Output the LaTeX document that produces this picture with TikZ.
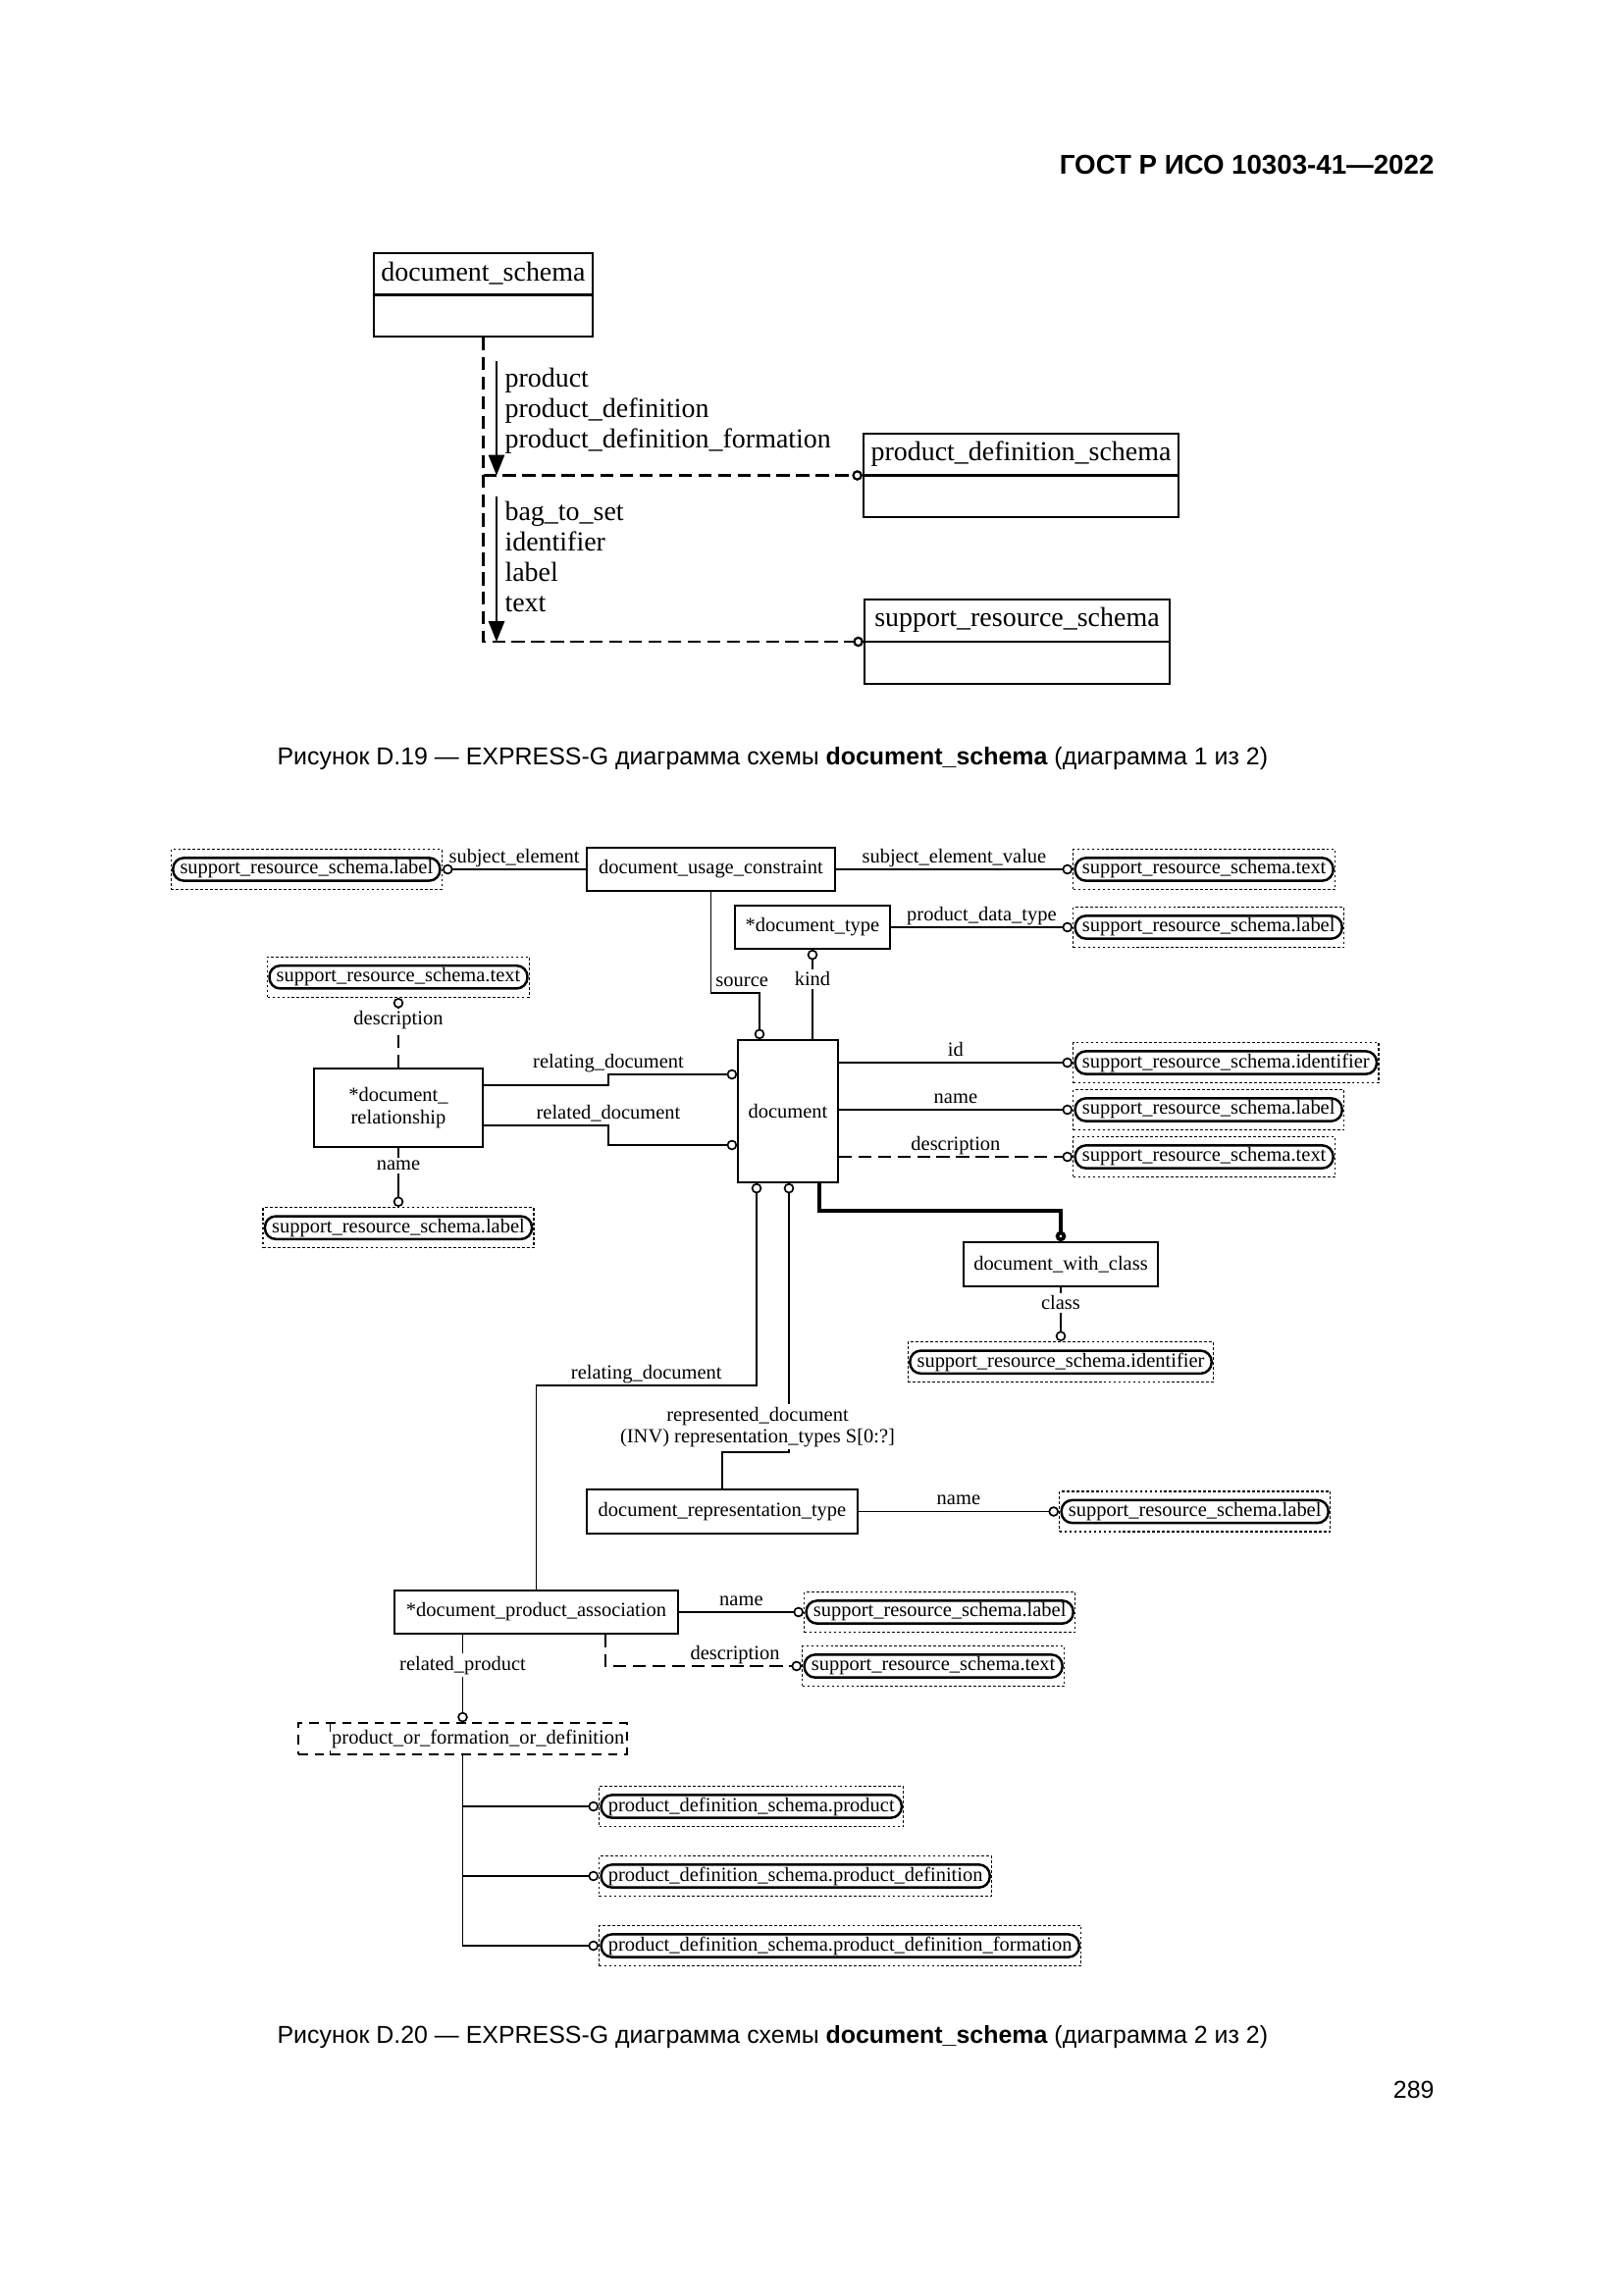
\documentclass[tikz,border=0pt]{standalone}
\usepackage{fontspec}
\setmainfont{Liberation Serif}
\newfontfamily\sansfam{Liberation Sans}
\usetikzlibrary{calc,arrows.meta}

\newcommand{\schemafont}{\fontsize{10.1}{11.2}\selectfont}
\newcommand{\diagfont}{\fontsize{7.4}{8}\selectfont}
\newcommand{\figcapfont}{\sansfam\fontsize{9}{11}\selectfont}
\newcommand{\hdrfont}{\sansfam\bfseries\fontsize{10}{12}\selectfont}

\begin{document}
\begin{tikzpicture}[x=0.126965mm, y=-0.126965mm,
    schemabox/.style 2 args={draw, line width=0.8pt, inner sep=0pt,
        minimum width=#1*0.126965mm, minimum height=#2*0.126965mm},
    entity/.style 2 args={draw, line width=0.6pt, inner sep=0pt, font=\diagfont, align=center,
        minimum width=#1*0.126965mm, minimum height=#2*0.126965mm},
    selectbox/.style 2 args={entity={#1}{#2}, line width=0.5pt, dash pattern=on 3.5pt off 2.5pt},
    typeref/.style={draw, line width=0.5pt, dash pattern=on 1pt off 0.8pt, font=\diagfont,
        inner xsep=3.3pt, inner ysep=0pt, minimum height=41*0.126965mm,
        path picture={\draw[solid, line width=0.9pt, rounded corners=4pt]
            ([shift={(0.7pt,-3.2pt)}]path picture bounding box.north west) rectangle
            ([shift={(-0.7pt,3.2pt)}]path picture bounding box.south east);}},
    lbl/.style={font=\diagfont, inner sep=1pt},
    lblabove/.style={anchor=base, yshift=2.5pt},
    conn/.style={line width=0.6pt, -{Circle[open, length=3.8pt]}},
    dashconn/.style={conn, dash pattern=on 4.8pt off 2.4pt},
    schemalink/.style={line width=0.8pt, dash pattern=on 4.8pt off 2.4pt, -{Circle[open, length=3.8pt]}},
    toparrow/.style={line width=0.8pt, -{Triangle[length=7.5pt, width=5.8pt]}}]

    % 1. Page and its texts
    \path[use as bounding box, fill=white] (0,0) rectangle (1654,2339);
    \node[font=\hdrfont, anchor=east, inner sep=0pt] (hdr) at (1462,168) {ГОСТ Р ИСО 10303-41—2022};
    \node[font=\figcapfont, anchor=west, inner sep=0pt] (cap1) at (282,773)
        {Рисунок D.19 — EXPRESS-G диаграмма схемы \textbf{document\_schema} (диаграмма 1 из 2)};
    \node[font=\figcapfont, anchor=west, inner sep=0pt] (cap2) at (282,2076)
        {Рисунок D.20 — EXPRESS-G диаграмма схемы \textbf{document\_schema} (диаграмма 2 из 2)};
    \node[font=\figcapfont, anchor=east, inner sep=0pt] (pageno) at (1462,2130) {289};

    % 2. Diagram 1 of 2: the schemas
    \node[schemabox={223}{85}] (ds) at (492.5,300.5) {};
    \node[schemabox={321}{85}] (pds) at (1040.5,484.5) {};
    \node[schemabox={311}{86}] (srs) at (1036.5,654) {};
    \foreach \s in {ds, pds, srs}
        \draw[line width=0.8pt] (\s.west) -- (\s.east);
    \node[font=\schemafont] (ds-title) at ($(ds.north)!0.5!(ds.center)$) {document\_schema};
    \node[font=\schemafont] (pds-title) at ($(pds.north)!0.5!(pds.center)$) {product\_definition\_schema};
    \node[font=\schemafont] (srs-title) at ($(srs.north)!0.5!(srs.center)$) {support\_resource\_schema};

    % references (dashed) and the imported items
    \draw[schemalink] (ds.south) |- (srs.west);
    \draw[schemalink] (ds.south |- pds.west) -- (pds.west);
    \coordinate (imp1) at (506,368);
    \coordinate (imp2) at (506,506);
    \draw[toparrow] (imp1) -- (imp1 |- pds.west);
    \draw[toparrow] (imp2) -- (imp2 |- srs.west);
    \node[font=\schemafont, align=left, anchor=north west, inner sep=0pt] (imp1-list) at (514,375)
        {product\\product\_definition\\product\_definition\_formation};
    \node[font=\schemafont, align=left, anchor=north west, inner sep=0pt] (imp2-list) at (514,511)
        {bag\_to\_set\\identifier\\label\\text};

    % 3. Diagram 2 of 2: entities
    \node[entity={253}{44}] (duc) at (724.5,886) {document\_usage\_constraint};
    \node[entity={158}{44}] (dtype) at (828,945) {*document\_type};
    \node[entity={102}{145}] (doc) at (803,1132.5) {document};
    \node[entity={172}{80}] (drel) at (406,1129) {*document\_\\relationship};
    \node[entity={198}{45}] (dwc) at (1081,1288.5) {document\_with\_class};
    \node[entity={276}{45}] (drt) at (736,1540.5) {document\_representation\_type};
    \node[entity={289}{44}] (dpa) at (546.5,1643) {*document\_product\_association};
    \node[selectbox={335}{32}] (pofd) at (471.5,1772) {\hspace*{4mm}product\_or\_formation\_or\_definition};
    \draw[dash pattern=on 3.5pt off 7pt, line width=0.5pt]
        ($(pofd.north west)+(33,0)$) -- ($(pofd.south west)+(33,0)$);

    % 4. Referenced types
    \node[typeref, anchor=east] (se-ref) at (451,886) {support\_resource\_schema.label};
    \node[typeref, anchor=west] (sev-ref) at (1093,886) {support\_resource\_schema.text};
    \node[typeref, anchor=west] (pdt-ref) at (1093,945) {support\_resource\_schema.label};
    \node[typeref, anchor=west] (id-ref) at (1093,1083) {support\_resource\_schema.identifier};
    \node[typeref, anchor=west] (name-ref) at (1093,1131) {support\_resource\_schema.label};
    \node[typeref, anchor=west] (desc-ref) at (1093,1179) {support\_resource\_schema.text};
    \node[typeref, anchor=south] (reldesc-ref) at (406,1017) {support\_resource\_schema.text};
    \node[typeref, anchor=north] (relname-ref) at (406,1230) {support\_resource\_schema.label};
    \node[typeref, anchor=north] (class-ref) at (1081,1367) {support\_resource\_schema.identifier};
    \node[typeref, anchor=west] (drtname-ref) at (1079,1540.5) {support\_resource\_schema.label};
    \node[typeref, anchor=west] (dpaname-ref) at (819,1643) {support\_resource\_schema.label};
    \node[typeref, anchor=west] (dpadesc-ref) at (817,1698) {support\_resource\_schema.text};
    \node[typeref, anchor=west] (p1-ref) at (610,1841) {product\_definition\_schema.product};
    \node[typeref, anchor=west] (p2-ref) at (610,1912) {product\_definition\_schema.product\_definition};
    \node[typeref, anchor=west] (p3-ref) at (610,1983) {product\_definition\_schema.product\_definition\_formation};

    % 5. Attributes
    \draw[conn] (duc.west) -- node[lbl, lblabove] (l-se) {subject\_element} (se-ref.east);
    \draw[conn] (duc.east) -- node[lbl, lblabove] (l-sev) {subject\_element\_value} (sev-ref.west);
    \draw[conn] (dtype.east) -- node[lbl, lblabove] (l-pdt) {product\_data\_type} (pdt-ref.west);

    \coordinate (src-bend) at (774,1012);
    \draw[conn] (duc.south) |- node[lbl, pos=0.5, anchor=base west, xshift=0.5pt, yshift=2.5pt] (l-source) {source}
        (src-bend) -- (src-bend |- doc.north);
    \draw[conn] (dtype.south |- doc.north) -- node[lbl, fill=white, pos=0.67] (l-kind) {kind} (dtype.south);

    \draw[conn] (doc.east |- id-ref.west) -- node[lbl, lblabove] (l-id) {id} (id-ref.west);
    \draw[conn] (doc.east |- name-ref.west) -- node[lbl, lblabove] (l-name) {name} (name-ref.west);
    \draw[dashconn] (doc.east |- desc-ref.west) -- node[lbl, lblabove] (l-desc) {description} (desc-ref.west);

    \coordinate (reling-bend) at (620,1095);
    \coordinate (reled-bend) at (620,1167);
    \draw[conn] ($(drel.east)+(0,-23)$) -| (reling-bend)
        -- node[lbl, lblabove, pos=0] (l-reling) {relating\_document} (reling-bend -| doc.west);
    \draw[conn] ($(drel.east)+(0,18)$) -| node[lbl, lblabove, pos=0.5] (l-reled) {related\_document}
        (reled-bend) -- (reled-bend -| doc.west);
    \draw[dashconn] (drel.north) -- node[lbl, fill=white, pos=0.68] (l-reldesc) {description} (reldesc-ref.south);
    \draw[conn] (drel.south) -- node[lbl, fill=white, pos=0.3] (l-relname) {name} (relname-ref.north);

    \coordinate (rd-bend) at (771,1412);
    \draw[conn] (dpa.north) |- node[lbl, lblabove, pos=0.75] (l-rd) {relating\_document}
        (rd-bend) -- (rd-bend |- doc.south);
    \coordinate (rep-bend) at (804,1480);
    \draw[conn] (drt.north) |- (rep-bend) -- (rep-bend |- doc.south);
    \node[lbl, fill=white, align=center, anchor=south] (l-rep) at ($(rep-bend)+(-32,-2)$)
        {represented\_document\\(INV) representation\_types S[0:?]};
    \draw[conn] (drt.east) -- node[lbl, lblabove] (l-drtname) {name} (drtname-ref.west);

    \coordinate (wc-bend) at (1081,1234);
    \draw[conn, line width=1.3pt] ($(doc.south east)+(-20,0)$) |- (wc-bend) -- (dwc.north);
    \draw[conn] (dwc.south) -- node[lbl, fill=white, pos=0.29] (l-class) {class} (class-ref.north);

    \draw[conn] (dpa.east) -- node[lbl, lblabove] (l-dpaname) {name} (dpaname-ref.west);
    \draw[dashconn] ($(dpa.south west)+(216,0)$) |- node[lbl, lblabove, pos=0.83] (l-dpadesc) {description}
        (dpadesc-ref.west);
    \draw[conn] (pofd.north |- dpa.south) -- node[lbl, fill=white, pos=0.35] (l-relprod) {related\_product} (pofd.north);
    \foreach \r in {p1-ref, p2-ref, p3-ref}
        \draw[conn] (pofd.south) |- (\r.west);

\end{tikzpicture}
\end{document}
